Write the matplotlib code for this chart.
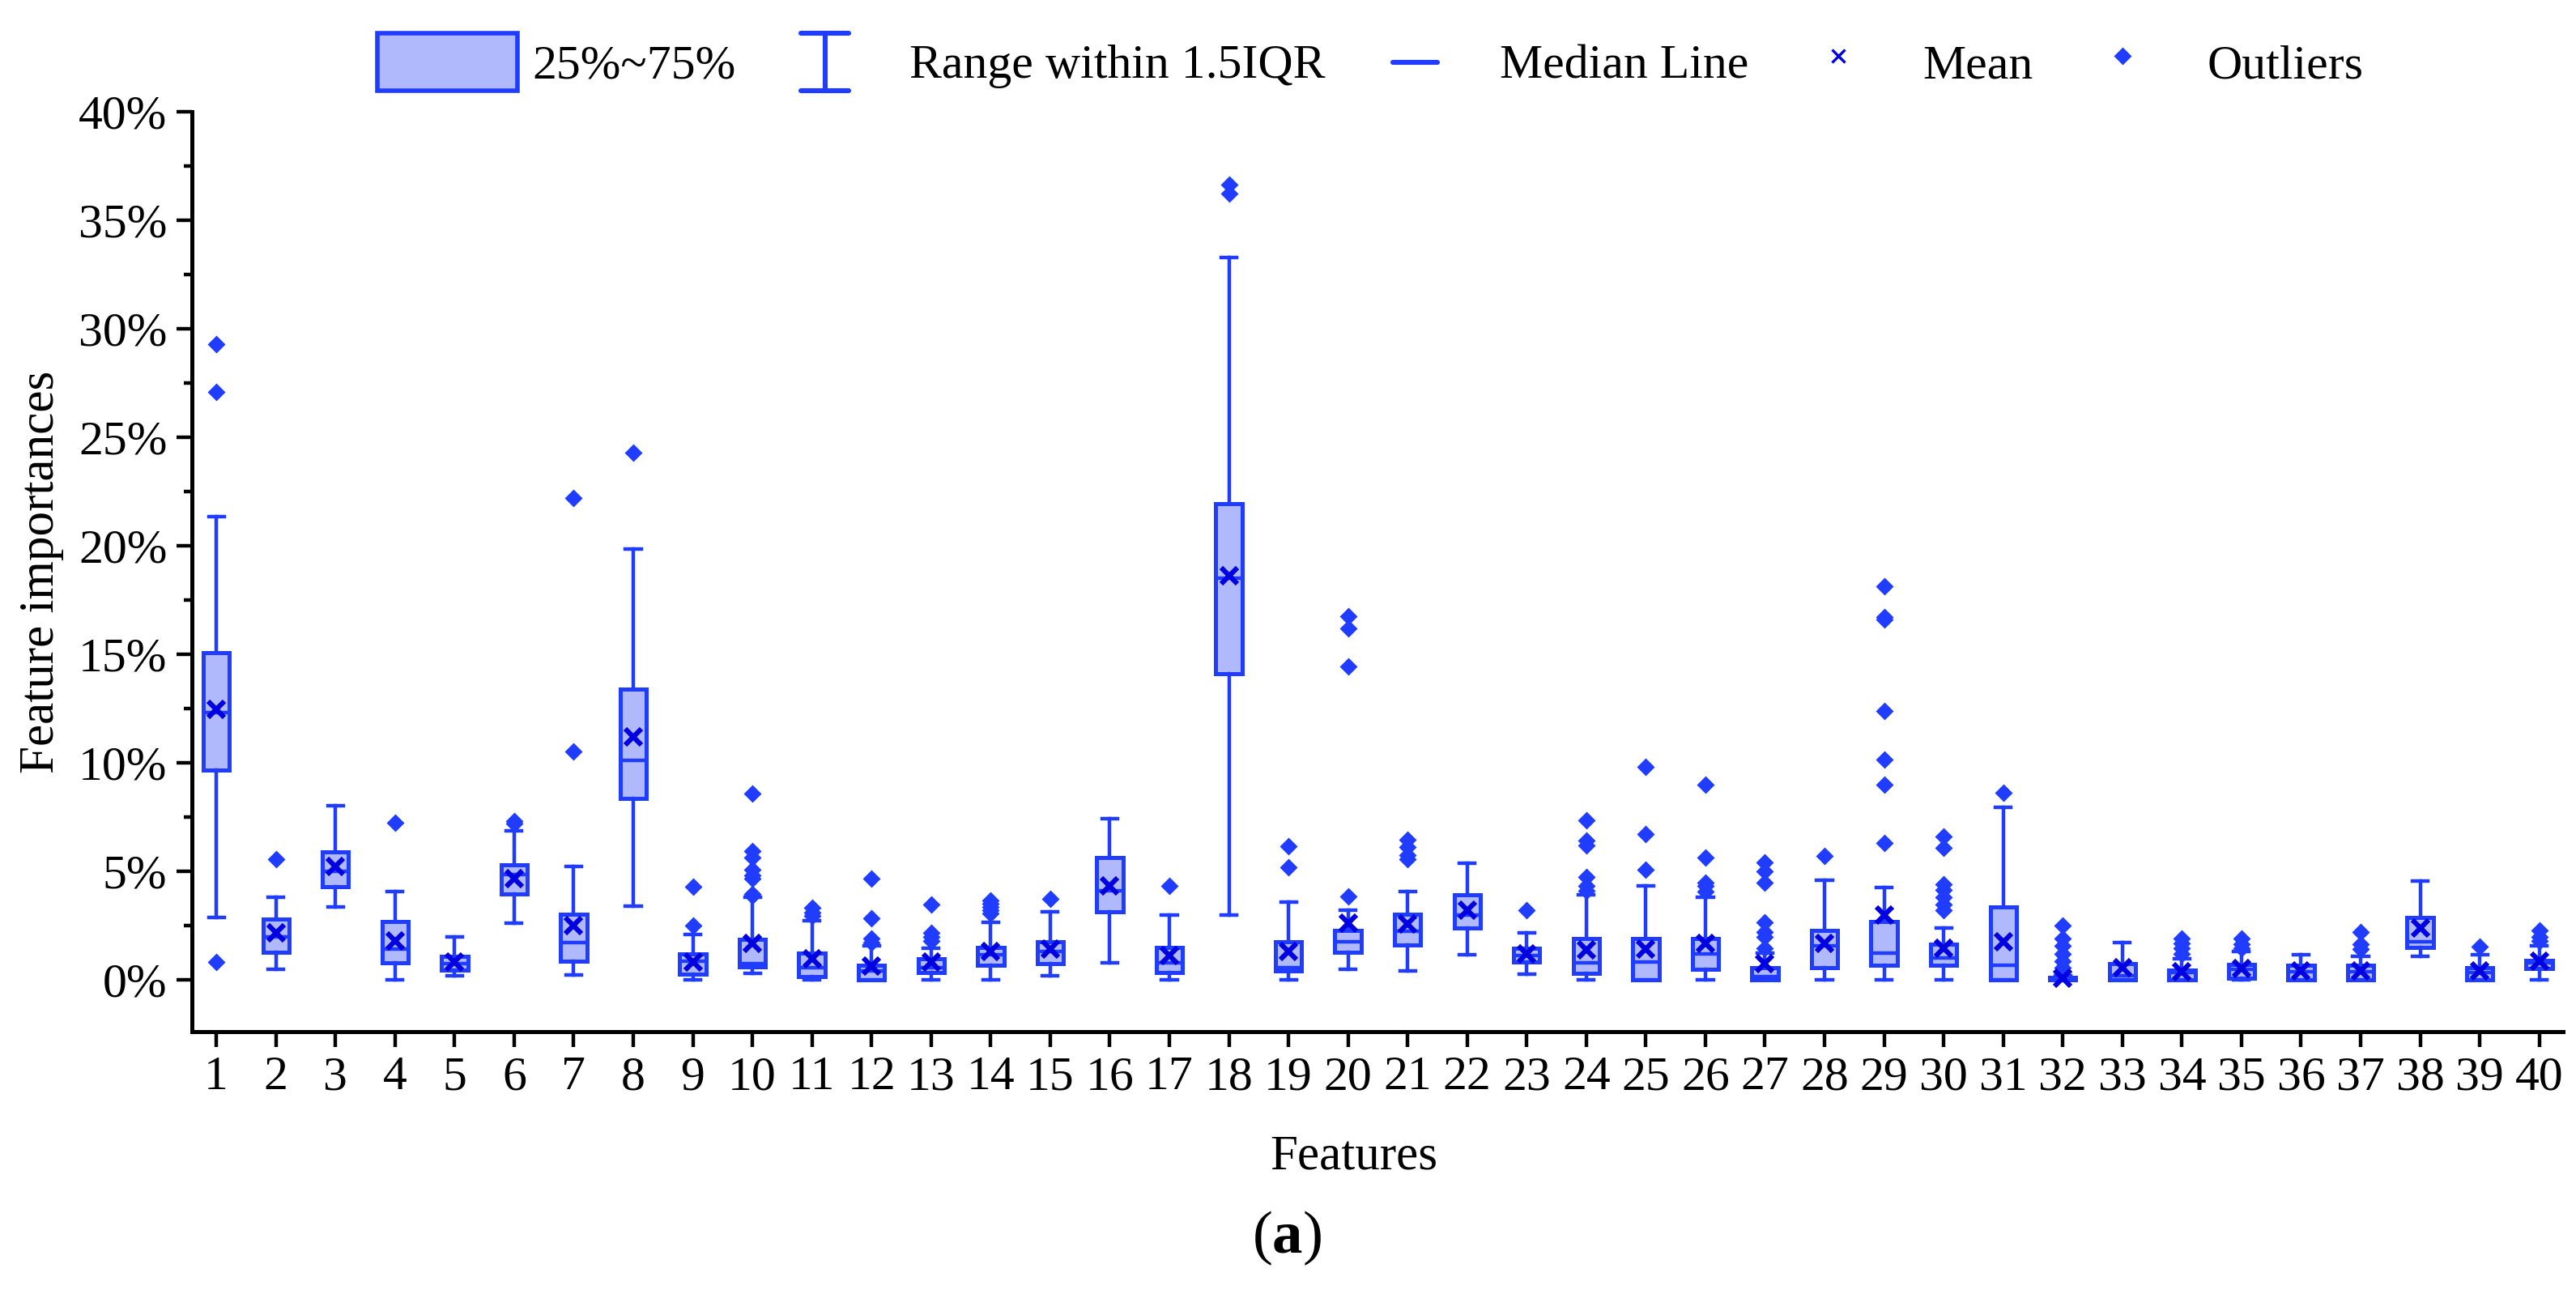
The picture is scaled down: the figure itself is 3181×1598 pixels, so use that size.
import matplotlib
matplotlib.use("Agg")
import matplotlib.pyplot as plt
from matplotlib.lines import Line2D
from matplotlib.patches import Patch
from matplotlib.legend_handler import HandlerBase
from matplotlib.ticker import MultipleLocator, FuncFormatter

plt.rcParams['font.family'] = ['Liberation Serif', 'DejaVu Serif']
plt.rcParams['mathtext.fontset'] = 'custom'
plt.rcParams['mathtext.rm'] = 'Liberation Serif'
plt.rcParams['mathtext.bf'] = 'Liberation Serif:bold'

EDGE = '#1f3cff'
FILL = '#b0b9fb'
MEAN_C = '#0000e0'

# data (feature importances, %)
features = list(range(1, 41))
q1 = [9.64, 1.24, 4.29, 0.76, 0.43, 3.96, 0.83, 8.36, 0.24, 0.57,
      0.15, 0.0, 0.34, 0.64, 0.73, 3.14, 0.31, 14.09, 0.4, 1.26,
      1.61, 2.39, 0.81, 0.28, 0.0, 0.48, 0.0, 0.56, 0.64, 0.64,
      0.0, 0.0, 0.0, 0.0, 0.06, 0.0, 0.0, 1.48, 0.0, 0.51]
med = [12.3, 1.96, 5.0, 1.4, 0.74, 4.83, 1.71, 10.1, 0.83, 0.74,
       0.56, 0.4, 0.56, 1.14, 1.31, 4.11, 0.78, 18.5, 0.56, 1.73,
       2.23, 2.98, 1.09, 0.78, 0.81, 1.17, 0.12, 1.56, 1.23, 0.98,
       0.64, 0.02, 0.18, 0.31, 0.48, 0.35, 0.35, 1.73, 0.31, 0.78]
q3 = [15.07, 2.79, 5.87, 2.67, 1.07, 5.29, 3.0, 13.39, 1.19, 1.86,
      1.23, 0.64, 0.94, 1.48, 1.73, 5.64, 1.48, 21.93, 1.73, 2.28,
      3.01, 3.89, 1.44, 1.89, 1.89, 1.89, 0.56, 2.28, 2.68, 1.64,
      3.34, 0.1, 0.73, 0.43, 0.68, 0.64, 0.64, 2.86, 0.56, 0.9]
whis_lo = [2.86, 0.46, 3.33, 0.0, 0.19, 2.6, 0.21, 3.4, 0.0, 0.29,
           0.0, 0.0, 0.0, 0.0, 0.18, 0.78, 0.0, 2.98, 0.0, 0.48,
           0.4, 1.14, 0.26, 0.0, 0.0, 0.0, 0.0, 0.0, 0.0, 0.0,
           0.0, 0.0, 0.0, 0.0, 0.0, 0.0, 0.0, 1.06, 0.0, 0.0]
whis_hi = [21.35, 3.79, 8.03, 4.07, 1.96, 6.86, 5.21, 19.83, 2.07, 3.81,
           2.72, 1.56, 1.45, 2.64, 3.11, 7.42, 2.98, 33.3, 3.56, 3.18,
           4.06, 5.36, 2.14, 3.92, 4.31, 3.8, 1.2, 4.56, 4.26, 2.39,
           7.94, 0.18, 1.69, 0.94, 1.31, 1.14, 1.06, 4.53, 1.14, 1.56]
means = [12.47, 2.14, 5.21, 1.79, 0.81, 4.64, 2.47, 11.17, 0.79, 1.67,
         0.94, 0.62, 0.8, 1.3, 1.39, 4.31, 1.11, 18.6, 1.28, 2.61,
         2.56, 3.18, 1.17, 1.36, 1.39, 1.67, 0.73, 1.67, 2.98, 1.44,
         1.73, 0.05, 0.56, 0.36, 0.51, 0.4, 0.4, 2.39, 0.4, 0.84]
outliers = [
    [29.3, 27.07, 0.81], [5.54], [], [7.21], [], [7.2, 7.3], [10.5, 22.2], [24.27],
    [2.5, 4.29], [8.57, 5.93, 5.64, 5.07, 4.79, 4.64, 3.93, 3.86],
    [3.3, 3.1, 2.95], [4.67, 2.81, 1.89, 1.7], [3.44, 2.15, 1.95, 1.78],
    [3.64, 3.5, 3.35, 3.2, 3.05], [3.72], [], [4.31], [36.66, 36.24],
    [6.14, 5.19], [3.84, 14.44, 16.19, 16.75],
    [6.45, 6.1, 5.75, 5.55], [], [3.18], [7.34, 6.39, 6.2, 4.72, 4.31, 4.1],
    [9.81, 6.69, 5.06], [8.97, 5.64, 4.47, 4.31, 4.06],
    [5.39, 4.97, 4.47, 2.64, 2.2, 1.97, 1.44], [5.69],
    [18.13, 16.72, 16.6, 12.39, 10.14, 8.97, 6.31],
    [6.61, 6.06, 4.39, 4.14, 3.8, 3.47, 3.18], [8.6],
    [2.48, 1.89, 1.56, 1.17, 0.84, 0.56, 0.4], [],
    [1.89, 1.67, 1.44, 1.17], [1.89, 1.64, 1.44], [], [2.18, 1.64, 1.39],
    [], [1.51], [2.28, 1.97, 1.77]]

stats = []
for i in range(len(features)):
    stats.append(dict(med=med[i], q1=q1[i], q3=q3[i], whislo=whis_lo[i],
                      whishi=whis_hi[i], mean=means[i], fliers=outliers[i]))


class IBarHandler(HandlerBase):
    def create_artists(self, legend, orig_handle, xdescent, ydescent,
                       width, height, fontsize, trans):
        cx = width / 2 - xdescent
        cw = width * 0.17
        y0 = -ydescent
        y1 = height - ydescent
        kw = dict(color=EDGE, lw=2.2, transform=trans, solid_capstyle='round')
        return [Line2D([cx, cx], [y0, y1], **kw),
                Line2D([cx - cw, cx + cw], [y0, y0], **kw),
                Line2D([cx - cw, cx + cw], [y1, y1], **kw)]


class ShortLineHandler(HandlerBase):
    def create_artists(self, legend, orig_handle, xdescent, ydescent,
                       width, height, fontsize, trans):
        cx = width / 2 - xdescent
        cy = height / 2 - ydescent
        hw = width * 0.16
        return [Line2D([cx - hw, cx + hw], [cy, cy], color=EDGE, lw=2.2,
                       transform=trans, solid_capstyle='round')]


fig = plt.figure(figsize=(15.905, 7.99), dpi=200)
ax = fig.add_axes([0.0745, 0.2028, 0.9205, 0.7108])

ax.bxp(stats, positions=features, widths=0.44, capwidths=0.26,
       showmeans=True, patch_artist=True, manage_ticks=False,
       boxprops=dict(facecolor=FILL, edgecolor=EDGE, linewidth=1.8),
       whiskerprops=dict(color=EDGE, linewidth=1.6),
       capprops=dict(color=EDGE, linewidth=1.6),
       medianprops=dict(color=EDGE, linewidth=1.6),
       meanprops=dict(marker='x', markeredgecolor=MEAN_C, markersize=7.5,
                      markeredgewidth=2.2),
       flierprops=dict(marker='D', markerfacecolor=EDGE, markeredgecolor=EDGE,
                       markersize=4.8))

ax.set_xlim(0.59, 40.4)
ax.set_ylim(-2.4, 40)
ax.set_xticks(features)
ax.set_xticklabels([str(f) for f in features])
ax.yaxis.set_major_locator(MultipleLocator(5))
ax.yaxis.set_minor_locator(MultipleLocator(2.5))
ax.yaxis.set_major_formatter(FuncFormatter(lambda v, p: '{:.0f}%'.format(v)))

for s in ['top', 'right']:
    ax.spines[s].set_visible(False)
for s in ['left', 'bottom']:
    ax.spines[s].set_linewidth(1.8)

ax.tick_params(axis='both', which='major', direction='out', length=7,
               width=1.6, labelsize=21.5, pad=4)
ax.tick_params(axis='y', which='minor', direction='out', length=3.6, width=1.6)

ax.set_xlabel('Features', fontsize=22)
ax.set_ylabel('Feature importances', fontsize=22)
ax.xaxis.set_label_coords(0.49, -0.112)
ax.yaxis.set_label_coords(-0.054, 0.5)

h_box = Patch(facecolor=FILL, edgecolor=EDGE, linewidth=2)
h_range = Line2D([], [], color=EDGE)
h_med = Line2D([], [], color=EDGE)
h_mean = Line2D([], [], ls='none', marker='x', markeredgecolor=MEAN_C,
                markersize=6, markeredgewidth=1.2)
h_out = Line2D([], [], ls='none', marker='D', markerfacecolor=EDGE,
               markeredgecolor=EDGE, markersize=4.6)
fig.legend([h_box, h_range, h_med, h_mean, h_out],
           ['25%~75%', 'Range within 1.5IQR', 'Median Line', 'Mean', 'Outliers'],
           handler_map={h_range: IBarHandler(), h_med: ShortLineHandler()},
           loc='center', bbox_to_anchor=(0.532, 0.952), ncol=5, frameon=False,
           fontsize=21.5, handlelength=2.9, handleheight=1.45, handletextpad=0.3,
           columnspacing=0.4)

fig.text(0.4995, 0.043, r'($\mathbf{a}$)', ha='center', va='center', fontsize=27)

fig.savefig('out.png', dpi=200)
